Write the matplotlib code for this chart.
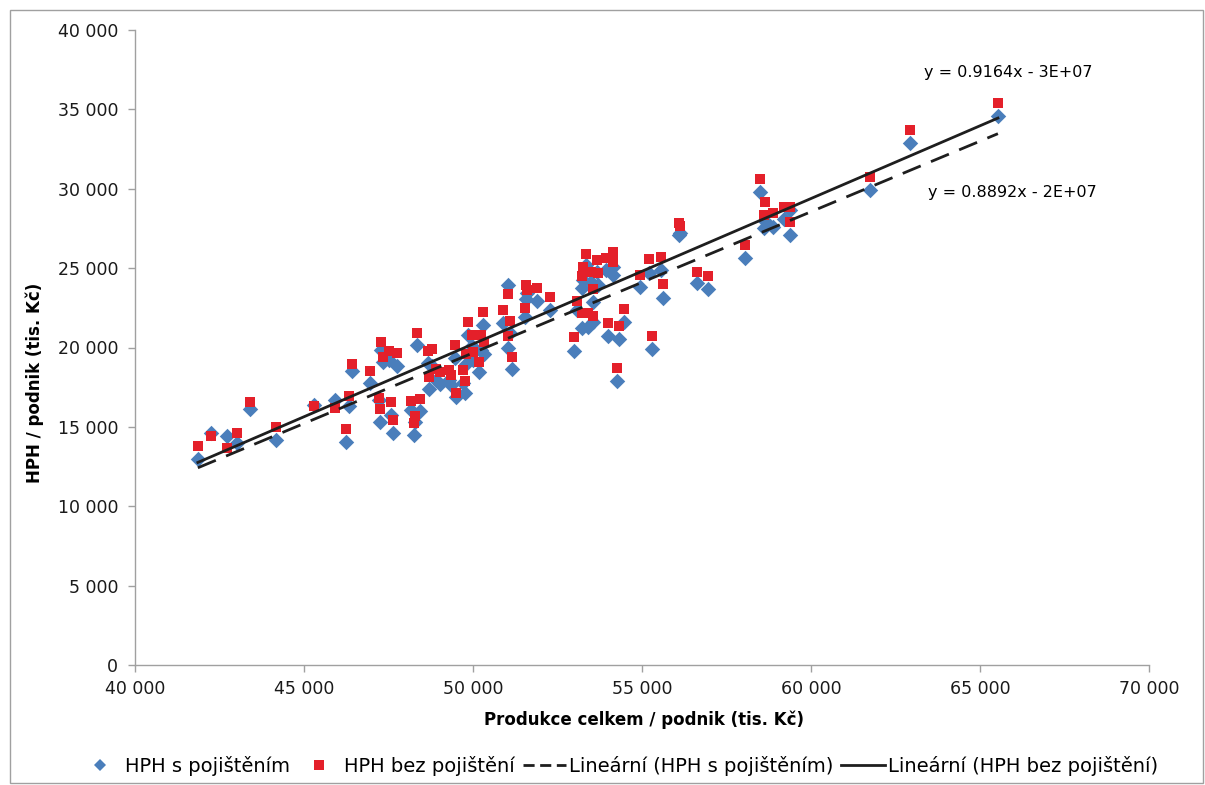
import matplotlib
matplotlib.use("Agg")
import matplotlib.pyplot as plt
from matplotlib.lines import Line2D
from matplotlib.patches import Rectangle
from matplotlib.ticker import FuncFormatter, MultipleLocator

# Production per farm (tis. Kč)
produkce = [
    41860, 42250, 42720, 43020, 43400, 44170, 45300, 45920, 46240, 46330,
    46420, 46950, 47280, 47340, 47510, 47750, 47250, 47230, 47570, 47630,
    48170, 48250, 48280, 48340, 48430, 48670, 48690, 48790, 48910, 49020,
    49290, 49350, 49470, 49500, 49700, 49760, 49850, 49970, 50000, 49790,
    50240, 50330, 50180, 50300, 50890, 51040, 51100, 51150, 51040, 51570,
    51540, 51600, 51890, 52280, 52990, 53080, 53230, 53400, 53560, 53230,
    53250, 53340, 53490, 53670, 53700, 53940, 54140, 54150, 53550, 53990,
    54260, 54320, 54470, 54940, 55210, 55560, 55300, 55620, 56100, 56130,
    56630, 56950, 58050, 58490, 58610, 58640, 58880, 59200, 59380, 59380,
    61750, 62930, 65530,
]

# Gross value added per farm, with insurance (tis. Kč)
hph_s_pojistenim = [
    12980, 14600, 14430, 13990, 16130, 14180, 16380, 16700, 14050, 16320,
    18520, 17770, 19850, 19090, 19220, 18840, 15310, 16700, 15750, 14620,
    16070, 14490, 15310, 20160, 16000, 19030, 17390, 18840, 17960, 17700,
    17960, 17640, 19340, 16880, 17770, 17140, 20790, 20100, 19220, 18960,
    19850, 19590, 18460, 21420, 21550, 19970, 20920, 18650, 23940, 23060,
    21920, 23440, 22930, 22370, 19780, 22370, 21230, 21290, 21610, 23750,
    24260, 25200, 24130, 24760, 23940, 24890, 25070, 24570, 22870, 20730,
    17890, 20540, 21610, 23810, 24700, 24890, 19910, 23120, 27090, 27200,
    24070, 23690, 25640, 29800, 27530, 28000, 27590, 28100, 28670, 27090,
    29930, 32890, 34590,
]

# Gross value added per farm, without insurance (tis. Kč)
hph_bez_pojisteni = [
    13800, 14450, 13670, 14620, 16570, 14990, 16320, 16190, 14870, 16950,
    18960, 18520, 20350, 19400, 19780, 19660, 16130, 16820, 16570, 15440,
    16630, 15250, 15690, 20920, 16760, 19780, 18140, 19910, 18650, 18460,
    18590, 18270, 20160, 17140, 18590, 17890, 21610, 20790, 19720, 19590,
    20790, 20350, 19090, 22240, 22370, 20730, 21670, 19400, 23370, 23940,
    22490, 23630, 23750, 23180, 20660, 22930, 22180, 22180, 21990, 24510,
    25070, 25890, 24760, 25520, 24700, 25640, 26020, 25390, 23690, 21550,
    18710, 21360, 22430, 24570, 25580, 25700, 20730, 24000, 27850, 27650,
    24760, 24510, 26460, 30620, 28350, 29170, 28480, 28850, 28850, 27910,
    30740, 33710, 35410,
]

# Linear trends (slope, intercept in tis. Kč)
trend_s_slope, trend_s_intercept = 0.8892, -24800
trend_bez_slope, trend_bez_intercept = 0.9164, -25600
eq_s_label = "y = 0.8892x - 2E+07"
eq_bez_label = "y = 0.9164x - 3E+07"

series_labels = [
    "HPH s pojištěním",
    "HPH bez pojištění",
    "Lineární (HPH s pojištěním)",
    "Lineární (HPH bez pojištění)",
]
x_title = "Produkce celkem / podnik (tis. Kč)"
y_title = "HPH / podnik (tis. Kč)"

BLUE = "#4A7EBB"
RED = "#E4202A"
LINE = "#1E1E1E"
GREY = "#A0A0A0"

plt.rcParams["font.family"] = ["DejaVu Sans"]

fig = plt.figure(figsize=(12.05, 7.85), dpi=100)
ax = fig.add_axes([135 / 1205, 120 / 785, 1014 / 1205, 635 / 785])

ax.scatter(produkce, hph_s_pojistenim, marker="D", s=62, color=BLUE,
           linewidths=0, zorder=2)
ax.scatter(produkce, hph_bez_pojisteni, marker="s", s=58, color=RED,
           linewidths=0, zorder=3)

x0, x1 = min(produkce), max(produkce)
xs = [x0, x1]
ax.plot(xs, [trend_s_slope * v + trend_s_intercept for v in xs],
        color=LINE, lw=2.0, dashes=(7, 4), zorder=4)
ax.plot(xs, [trend_bez_slope * v + trend_bez_intercept for v in xs],
        color=LINE, lw=2.0, zorder=4)

ax.text(63350, 37300, eq_bez_label, fontsize=11.5, va="center", ha="left")
ax.text(63450, 29750, eq_s_label, fontsize=11.5, va="center", ha="left")

ax.set_xlim(40000, 70000)
ax.set_ylim(0, 40000)
ax.xaxis.set_major_locator(MultipleLocator(5000))
ax.yaxis.set_major_locator(MultipleLocator(5000))
fmt = FuncFormatter(lambda v, p: f"{int(v):,}".replace(",", " "))
ax.xaxis.set_major_formatter(fmt)
ax.yaxis.set_major_formatter(fmt)

for side in ("top", "right"):
    ax.spines[side].set_visible(False)
for side in ("left", "bottom"):
    ax.spines[side].set_color(GREY)
    ax.spines[side].set_linewidth(1.0)
ax.tick_params(axis="both", direction="out", length=5, width=1.0,
               color=GREY, labelsize=12.5, labelcolor="#1a1a1a")
ax.tick_params(axis="y", pad=7)
ax.tick_params(axis="x", pad=6)

ax.set_xlabel(x_title, fontsize=12, fontweight="bold", va="center")
ax.set_ylabel(y_title, fontsize=12, fontweight="bold", va="center")
ax.xaxis.set_label_coords(0.502, -0.0866)
ax.yaxis.set_label_coords(-0.0986, 0.444)

handles = [
    Line2D([], [], ls="none", marker="D", ms=6.5, color=BLUE, mew=0),
    Line2D([], [], ls="none", marker="s", ms=7, color=RED, mew=0),
    Line2D([], [], color=LINE, lw=2.0, dashes=(4, 2)),
    Line2D([], [], color=LINE, lw=2.0),
]
fig.legend(handles, series_labels, loc="center", ncol=4,
           bbox_to_anchor=(618 / 1205, 1 - 766 / 785), frameon=False,
           fontsize=14, handlelength=2.25, handletextpad=0.15,
           columnspacing=0.4)

fig.patches.append(Rectangle((10 / 1205, 2 / 785), 1193 / 1205, 773 / 785,
                             transform=fig.transFigure, fill=False,
                             edgecolor=GREY, lw=1.0))

fig.savefig("out.png", dpi=100)
